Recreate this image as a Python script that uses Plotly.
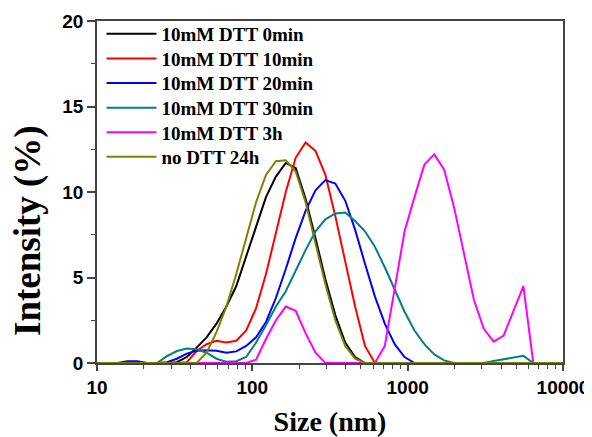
import plotly.graph_objects as go

sizes = [10.1, 11.7, 13.54, 15.69, 18.17, 21.04, 24.36, 28.21, 32.67, 37.84,
         43.82, 50.75, 58.77, 68.06, 78.82, 91.28, 105.7, 122.4, 141.8, 164.2,
         190.1, 220.2, 255.0, 295.3, 342.0, 396.1, 458.7, 531.2, 615.1, 712.4,
         825.0, 955.4, 1106, 1281, 1484, 1718, 1990, 2305, 2669, 3091,
         3580, 4145, 4801, 5560, 6439, 7456, 8635, 10000]

dtt_0min = [0, 0, 0, 0, 0, 0, 0, 0, 0.05, 0.35,
            0.9, 1.5, 2.3, 3.3, 4.5, 6.2, 8.0, 9.7, 10.9, 11.7,
            11.4, 9.6, 7.3, 4.9, 2.8, 1.2, 0.35, 0, 0, 0,
            0, 0, 0, 0, 0, 0, 0, 0, 0, 0,
            0, 0, 0, 0, 0, 0, 0, 0]
dtt_10min = [0, 0, 0, 0, 0, 0, 0, 0, 0, 0.05,
             0.7, 1.1, 1.3, 1.2, 1.3, 1.9, 3.2, 5.2, 7.6, 10.0,
             12.0, 12.9, 12.4, 11.0, 8.6, 6.0, 3.3, 1.0, 0, 0,
             0, 0, 0, 0, 0, 0, 0, 0, 0, 0,
             0, 0, 0, 0, 0, 0, 0, 0]
dtt_20min = [0, 0, 0, 0.1, 0.1, 0, 0, 0.05, 0.25, 0.55,
             0.72, 0.75, 0.72, 0.6, 0.68, 1.0, 1.5, 2.4, 3.8, 5.5,
             7.3, 8.9, 10.1, 10.7, 10.5, 9.5, 7.8, 5.8, 3.9, 2.3,
             1.1, 0.35, 0, 0, 0, 0, 0, 0, 0, 0,
             0, 0, 0, 0, 0, 0, 0, 0]
dtt_30min = [0, 0, 0, 0, 0, 0, 0, 0.4, 0.7, 0.85,
             0.8, 0.6, 0.25, 0.08, 0.1, 0.35, 1.2, 2.2, 3.3, 4.2,
             5.4, 6.6, 7.7, 8.4, 8.75, 8.8, 8.3, 7.7, 6.8, 5.6,
             4.3, 3.0, 1.9, 1.1, 0.5, 0.15, 0, 0, 0, 0,
             0.12, 0.22, 0.32, 0.42, 0, 0, 0, 0]
dtt_3h = [0, 0, 0, 0, 0, 0, 0, 0, 0, 0,
          0, 0, 0, 0, 0, 0, 0.2, 1.4, 2.5, 3.3,
          3.05, 1.75, 0.6, 0, 0, 0, 0, 0, 0, 1.0,
          4.4, 7.7, 9.7, 11.6, 12.2, 11.3, 9.1, 6.4, 3.7, 2.0,
          1.25, 1.6, 3.1, 4.5, 0, 0, 0, 0]
no_dtt_24h = [0, 0, 0, 0, 0, 0, 0, 0, 0, 0,
              0, 0.6, 1.8, 3.3, 5.2, 7.3, 9.4, 11.0, 11.8, 11.85,
              11.2, 9.4, 7.0, 4.6, 2.5, 1.0, 0.25, 0, 0, 0,
              0, 0, 0, 0, 0, 0, 0, 0, 0, 0,
              0, 0, 0, 0, 0, 0, 0, 0]

series_names = ["10mM DTT 0min", "10mM DTT 10min", "10mM DTT 20min",
                "10mM DTT 30min", "10mM DTT 3h", "no DTT 24h"]
series_values = [dtt_0min, dtt_10min, dtt_20min, dtt_30min, dtt_3h, no_dtt_24h]
series_colors = ["#000000", "#FF0000", "#0000FF", "#008080", "#FF00FF", "#808000"]

x_tick_vals = [10, 100, 1000, 10000]
x_tick_text = ["10", "100", "1000", "10000"]
x_minor_vals = [m * d for d in (10, 100, 1000) for m in range(2, 10)]
y_tick_vals = [0, 5, 10, 15, 20]

# Page geometry (the page body has an 8px margin, compensated here)
OFF = 8
PAGE_W, PAGE_H = 592, 437
PLOT_L, PLOT_R, PLOT_T, PLOT_B = 97, 563, 21, 363   # plot area in page pixels
W, H = PAGE_W - OFF, PAGE_H - OFF
ML, MR, MT, MB = PLOT_L - OFF, PAGE_W - PLOT_R, PLOT_T - OFF, PAGE_H - PLOT_B
PW, PH = PLOT_R - PLOT_L, PLOT_B - PLOT_T


def px_to_paper_x(px):
    return (px - PLOT_L) / PW


def px_to_paper_y(py):
    return (PLOT_B - py) / PH


fig = go.Figure()
legend_font = dict(family="Liberation Serif", size=19, color="#000000", weight="bold")
legend_layouts = {}
for i, (name, vals, col) in enumerate(zip(series_names, series_values, series_colors)):
    key = "legend" if i == 0 else f"legend{i + 1}"
    fig.add_trace(go.Scatter(x=sizes, y=vals, name=name, mode="lines",
                             line=dict(color=col, width=2), legend=key))
    row_center = 34 + 24.6 * i
    legend_layouts[key] = dict(x=px_to_paper_x(101.5), y=px_to_paper_y(row_center),
                               xanchor="left", yanchor="middle",
                               bgcolor="rgba(0,0,0,0)", borderwidth=0,
                               font=legend_font, itemwidth=50)

axis_color = "#444444"
tick_font = dict(family="Liberation Sans", size=19, color="#000000", weight="bold")

fig.update_layout(
    width=W, height=H,
    margin=dict(l=ML, r=MR, t=MT, b=MB, autoexpand=False),
    paper_bgcolor="white", plot_bgcolor="white",
    showlegend=True,
    xaxis=dict(type="log", range=[1, 4], tickvals=x_tick_vals, ticktext=x_tick_text,
               ticks="outside", ticklen=6, tickwidth=1.5, tickcolor=axis_color,
               minor=dict(tickvals=x_minor_vals, ticks="outside", ticklen=4,
                          tickwidth=1.2, tickcolor=axis_color),
               showline=True, linecolor=axis_color, linewidth=1.8, mirror=True,
               showgrid=False, zeroline=False, tickfont=tick_font, automargin=False,
               title=dict(text="Size (nm)",
                          font=dict(family="Liberation Serif", size=28, color="#000000",
                                    weight="bold"),
                          standoff=17)),
    yaxis=dict(range=[0, 20], tickvals=y_tick_vals,
               ticks="outside", ticklen=8, tickwidth=1.5, tickcolor=axis_color,
               minor=dict(dtick=2.5, ticks="outside", ticklen=4,
                          tickwidth=1.2, tickcolor=axis_color),
               showline=True, linecolor=axis_color, linewidth=1.8, mirror=True,
               showgrid=False, zeroline=False, tickfont=tick_font, automargin=False),
    annotations=[dict(text="Intensity (%)", textangle=-90, showarrow=False,
                      xref="paper", yref="paper",
                      x=px_to_paper_x(28), y=px_to_paper_y(231),
                      xanchor="center", yanchor="middle",
                      font=dict(family="Liberation Serif", size=37, color="#000000",
                                weight="bold"))],
    **legend_layouts,
)

fig.write_html("out.html")
